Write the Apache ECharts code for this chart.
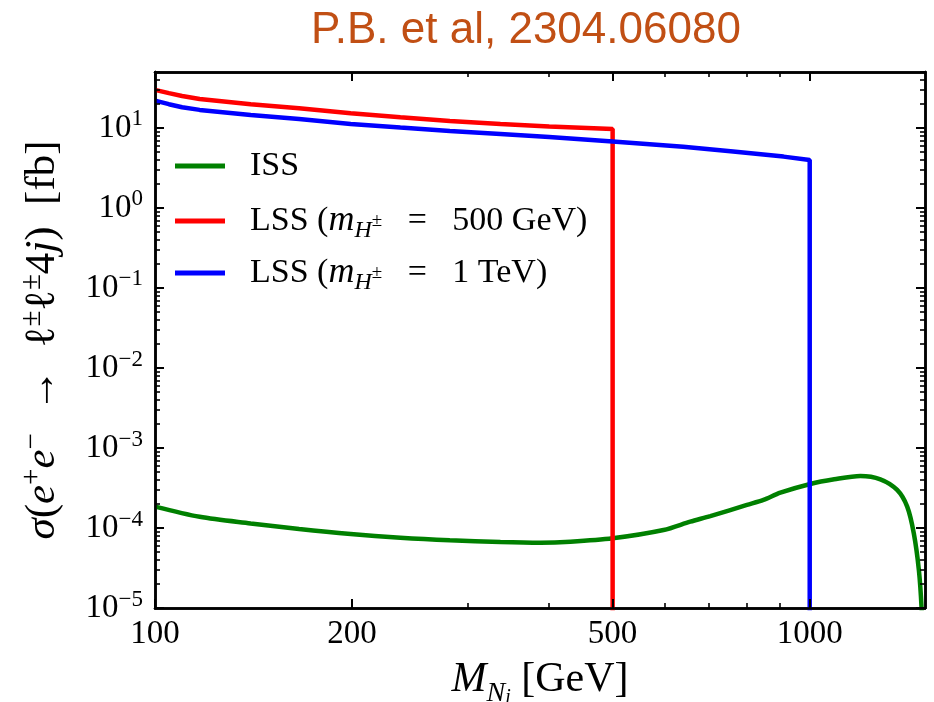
<!DOCTYPE html>
<html><head><meta charset="utf-8">
<script src="https://cdn.jsdelivr.net/npm/echarts@6/dist/echarts.min.js"></script>
<style>html,body{margin:0;padding:0;background:#fff}
#wrap{position:relative;width:934px;height:702px}
#c,#t{position:absolute;left:0;top:0;width:934px;height:702px}
#t{pointer-events:none}</style>
</head><body><div id="wrap"><div id="c"></div><div id="t"></div></div>
<script>
// ---- data (M_N in GeV, sigma in fb) ----
const massISS  = [100, 117, 140, 166, 199, 237, 282, 337, 388, 431, 500, 598, 657, 705, 802, 850, 902, 1002, 1090, 1195, 1282, 1360, 1409, 1442, 1468, 1482, 1488];
const sigmaISS = [1.85e-4, 1.38e-4, 1.14e-4, 9.7e-5, 8.4e-5, 7.56e-5, 7.02e-5, 6.68e-5, 6.55e-5, 6.74e-5, 7.44e-5, 9.44e-5, 1.2e-4, 1.41e-4, 1.94e-4, 2.24e-4, 2.76e-4, 3.55e-4, 4.06e-4, 4.47e-4, 4.06e-4, 2.99e-4, 1.85e-4, 8.6e-5, 2.99e-5, 1.0e-5, 3e-6];
const massLSS500  = [100, 105, 110, 117, 140, 166, 199, 237, 282, 337, 400, 500, 500];
const sigmaLSS500 = [29.9, 27.2, 25.1, 23.0, 19.8, 17.6, 15.3, 13.6, 12.2, 11.2, 10.4, 9.7, 1e-6];
const massLSS1000  = [100, 105, 110, 117, 140, 166, 199, 237, 282, 337, 400, 500, 641, 764, 912, 1000, 1000];
const sigmaLSS1000 = [21.9, 19.8, 18.1, 16.8, 14.5, 12.9, 11.2, 10.1, 9.17, 8.41, 7.7, 6.75, 5.83, 5.06, 4.38, 3.98, 1e-6];
const xTickLabels = [100, 200, 500, 1000];
const xMinorTicks = [300, 400, 600, 700, 800, 900];
const yTickExponents = [-5, -4, -3, -2, -1, 0, 1];
const xRange = [100, 1500];
const yRange = [1e-5, 50];
const titleText = 'P.B. et al, 2304.06080';
const seriesNames = ['ISS', 'LSS500', 'LSS1000'];

const L = Math.log10;
const FONT = 'Liberation Serif';
const yMinor = [];
yTickExponents.forEach(e => { for (let k = 2; k <= 9; k++) { const v = L(k) + e; if (v <= L(yRange[1])) yMinor.push(v); } });
const xMajorV = xTickLabels.map(L);
const xMinorV = xMinorTicks.map(L);
const yMajorV = yTickExponents.slice();
const toPts = (xs, ys) => xs.map((x, i) => [L(x), L(ys[i])]);
const X0 = L(xRange[0]), X1 = L(xRange[1]), Y0 = L(yRange[0]), Y1 = L(yRange[1]);

const GRID = { left: 155, right: 9, top: 72, bottom: 94, containLabel: false, outerBoundsMode: 'none' };
const bx = () => ({ type: 'value', min: X0, max: X1, splitLine: { show: false } });
const by = () => ({ type: 'value', min: Y0, max: Y1, splitLine: { show: false } });
const axLine = () => ({ show: true, onZero: false, lineStyle: { color: '#000', width: 2.5 } });
const noLine = () => ({ show: false, onZero: false });
const noTick = () => ({ show: false });
const tk = (v, len, w) => ({ show: true, inside: true, length: len, customValues: v, lineStyle: { color: '#000', width: w } });
const sup = n => (n < 0 ? '−' + (-n) : '' + n);

const xName = '{it|M}{sub|N}{subi|i}{n| [GeV]}';
const xRich = {
  n: { fontFamily: FONT, fontSize: 42, lineHeight: 50, color: '#000' },
  it: { fontFamily: FONT, fontStyle: 'italic', fontSize: 42, lineHeight: 50, color: '#000' },
  sub: { fontFamily: FONT, fontStyle: 'italic', fontSize: 28, lineHeight: 50, verticalAlign: 'bottom', color: '#000' },
  subi: { fontFamily: FONT, fontStyle: 'italic', fontSize: 20, lineHeight: 56, verticalAlign: 'bottom', color: '#000' }
};
const yName = '{it|σ}{n|(}{it|e}{sup|+}{it|e}{sup|−}{n|  →  }{n|ℓ}{sup|±}{n|ℓ}{sup|±}{n|4}{it|j}{n|)  [fb]}';
const yRich = {
  n: { fontFamily: FONT, fontSize: 43, lineHeight: 50, color: '#000' },
  it: { fontFamily: FONT, fontStyle: 'italic', fontSize: 43, lineHeight: 50, color: '#000' },
  sup: { fontFamily: FONT, fontSize: 29, lineHeight: 50, verticalAlign: 'top', color: '#000' }
};
const legRich = {
  g: { width: 20 },
  n: { fontFamily: FONT, fontSize: 34, lineHeight: 40, color: '#000' },
  it: { fontFamily: FONT, fontStyle: 'italic', fontSize: 36, lineHeight: 40, color: '#000' },
  sub: { fontFamily: FONT, fontStyle: 'italic', fontSize: 24, lineHeight: 44, verticalAlign: 'bottom', color: '#000' },
  subs: { fontFamily: FONT, fontSize: 19, lineHeight: 40, verticalAlign: 'middle', color: '#000' }
};
const legendLabels = {
  ISS: '{g|}{n|ISS}',
  LSS500: '{g|}{n|LSS (}{it|m}{sub|H}{subs|±}{n|   =   500 GeV)}',
  LSS1000: '{g|}{n|LSS (}{it|m}{sub|H}{subs|±}{n|   =   1 TeV)}'
};
const legendTops = [149, 203, 255];
const colors = ['#008000', '#ff0000', '#0000ff'];
const dataSets = [toPts(massISS, sigmaISS), toPts(massLSS500, sigmaLSS500), toPts(massLSS1000, sigmaLSS1000)];

// main chart: curves, labels, names, legend, title
const chart = echarts.init(document.getElementById('c'));
chart.setOption({
  animation: false,
  backgroundColor: '#fff',
  grid: GRID,
  xAxis: [
    Object.assign(bx(), { position: 'bottom', axisLine: axLine(), axisTick: noTick(),
      axisLabel: { customValues: xMajorV, margin: 10, fontFamily: FONT, fontSize: 33, color: '#000',
        formatter: v => '' + Math.round(Math.pow(10, v)) },
      name: xName, nameLocation: 'middle', nameGap: 44, nameTextStyle: { rich: xRich } }),
    Object.assign(bx(), { position: 'top', axisLine: axLine(), axisTick: noTick(), axisLabel: { show: false } })
  ],
  yAxis: [
    Object.assign(by(), { position: 'left', axisLine: axLine(), axisTick: noTick(),
      axisLabel: { customValues: yMajorV, margin: 12, color: '#000',
        formatter: v => '{b|10}{s|' + sup(Math.round(v)) + '}',
        rich: {
          b: { fontFamily: FONT, fontSize: 33, lineHeight: 40, color: '#000' },
          s: { fontFamily: FONT, fontSize: 23, lineHeight: 40, verticalAlign: 'top', color: '#000' }
        } },
      name: yName, nameLocation: 'middle', nameRotate: 90, nameGap: 87, nameTextStyle: { rich: yRich } }),
    Object.assign(by(), { position: 'right', axisLine: axLine(), axisTick: noTick(), axisLabel: { show: false } })
  ],
  series: seriesNames.map((nm, i) => ({
    name: nm, type: 'line', data: dataSets[i], showSymbol: false, symbol: 'none',
    smooth: i === 0 ? 0.3 : false, clip: true, color: colors[i], lineStyle: { color: colors[i], width: 4.5 }
  })),
  title: { text: titleText, left: 521, top: 4, textAlign: 'center',
    textStyle: { fontFamily: 'Liberation Sans', fontSize: 44, fontWeight: 'normal', color: '#c14f14' } },
  legend: seriesNames.map((nm, i) => ({
    data: [nm], left: 175, top: legendTops[i], padding: 0, icon: 'rect', itemWidth: 50, itemHeight: 5,
    selectedMode: false, formatter: n => legendLabels[n], textStyle: { rich: legRich }
  }))
});

// overlay chart with the same grid and scales: inward major/minor ticks on all four sides
const ticks = echarts.init(document.getElementById('t'));
ticks.setOption({
  animation: false,
  grid: GRID,
  xAxis: [
    Object.assign(bx(), { position: 'bottom', axisLine: axLine(), axisTick: tk(xMajorV, 9, 2), axisLabel: { show: false } }),
    Object.assign(bx(), { position: 'bottom', axisLine: noLine(), axisTick: tk(xMinorV, 5, 1.6), axisLabel: { show: false } }),
    Object.assign(bx(), { position: 'top', axisLine: axLine(), axisTick: tk(xMajorV, 9, 2), axisLabel: { show: false } }),
    Object.assign(bx(), { position: 'top', axisLine: noLine(), axisTick: tk(xMinorV, 5, 1.6), axisLabel: { show: false } })
  ],
  yAxis: [
    Object.assign(by(), { position: 'left', axisLine: axLine(), axisTick: tk(yMajorV, 9, 2), axisLabel: { show: false } }),
    Object.assign(by(), { position: 'left', axisLine: noLine(), axisTick: tk(yMinor, 5, 1.6), axisLabel: { show: false } }),
    Object.assign(by(), { position: 'right', axisLine: axLine(), axisTick: tk(yMajorV, 9, 2), axisLabel: { show: false } }),
    Object.assign(by(), { position: 'right', axisLine: noLine(), axisTick: tk(yMinor, 5, 1.6), axisLabel: { show: false } })
  ],
  series: [{ type: 'line', data: [], silent: true }]
});
</script></body></html>
